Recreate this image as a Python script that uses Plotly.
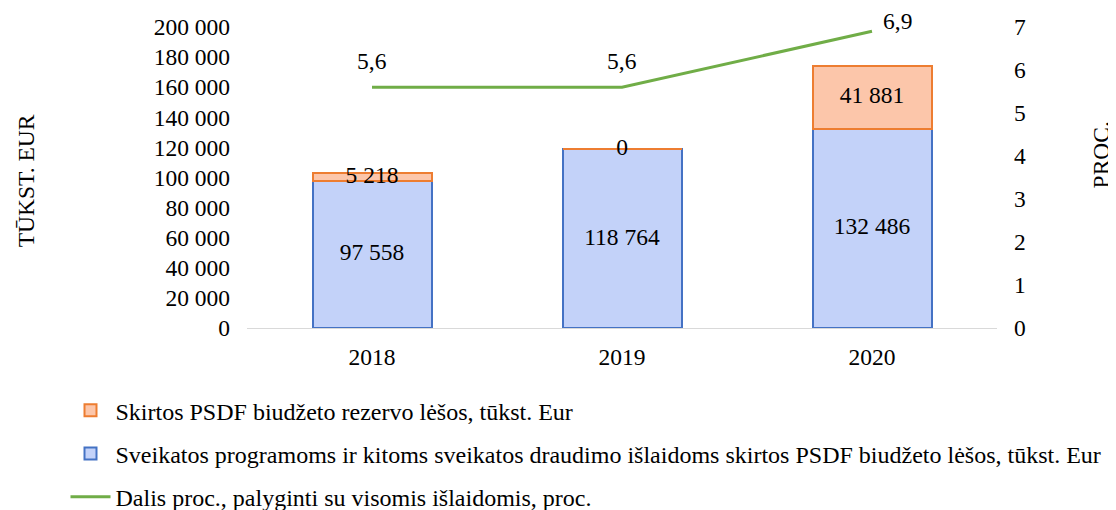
import plotly.graph_objects as go

years = ["2018", "2019", "2020"]
base_vals = [97558, 118764, 132486]
reserve_vals = [5218, 0, 41881]
share_vals = [5.6, 5.6, 6.9]

name_reserve = "Skirtos PSDF biudžeto rezervo lėšos, tūkst. Eur"
name_base = "Sveikatos programoms ir kitoms sveikatos draudimo išlaidoms skirtos PSDF biudžeto lėšos, tūkst. Eur"
name_share = "Dalis proc., palyginti su visomis išlaidomis, proc."

FONT = "Liberation Serif, Times New Roman, serif"
FS = 23.5

def fmt(v):
    return f"{v:,}".replace(",", " ")

fig = go.Figure()

fig.add_trace(go.Bar(
    x=years, y=base_vals, name=name_base, legendgroup="b", legendrank=2,
    marker=dict(color="#c3d2f9", line=dict(color="#4472c4", width=2)),
    width=0.476,
))
fig.add_trace(go.Bar(
    x=years, y=reserve_vals, name=name_reserve, legendgroup="a", legendrank=1,
    marker=dict(color="#fcc6aa", line=dict(color="#ed7d31", width=2)),
    width=0.476,
))
fig.add_trace(go.Scatter(
    x=years, y=share_vals, name=name_share, legendgroup="c", legendrank=3,
    mode="lines", yaxis="y2", cliponaxis=False,
    line=dict(color="#70ad47", width=3),
))
# labels for bars
fig.add_trace(go.Scatter(
    x=years, y=[v / 2 for v in base_vals], mode="text", cliponaxis=False,
    text=[fmt(v) for v in base_vals], showlegend=False, hoverinfo="skip",
    textfont=dict(family=FONT, size=FS, color="black"),
))
fig.add_trace(go.Scatter(
    x=years, y=[b + r / 2 for b, r in zip(base_vals, reserve_vals)], mode="text",
    cliponaxis=False,
    text=[fmt(v) for v in reserve_vals], showlegend=False, hoverinfo="skip",
    textfont=dict(family=FONT, size=FS, color="black"),
))

annotations = [
    dict(text="TŪKST. EUR", textangle=-90, x=-0.295, y=0.49, xref="paper",
         yref="paper", showarrow=False, xanchor="center", yanchor="middle",
         font=dict(family=FONT, size=FS)),
    dict(text="PROC.", textangle=-90, x=1.138, y=0.575, xref="paper",
         yref="paper", showarrow=False, xanchor="center", yanchor="middle",
         font=dict(family=FONT, size=FS)),
]
last = len(years) - 1
for i, v in enumerate(share_vals):
    annotations.append(dict(
        text=f"{v}".replace(".", ","), x=i, y=v, xref="x", yref="y2",
        showarrow=False, xanchor="center", yanchor="middle",
        xshift=25 if i == last else 0, yshift=10 if i == last else 26,
        font=dict(family=FONT, size=FS, color="black"),
    ))

fig.update_layout(
    width=1108, height=502,
    barmode="stack",
    paper_bgcolor="white", plot_bgcolor="white",
    font=dict(family=FONT, size=FS, color="black"),
    margin=dict(l=239, r=119, t=19, b=182, autoexpand=False),
    showlegend=True,
    legend=dict(
        x=-0.242, y=-0.2, xanchor="left", yanchor="top",
        traceorder="grouped", tracegroupgap=9,
        font=dict(family=FONT, size=24, color="black"),
        itemwidth=40,
    ),
    xaxis=dict(
        type="category", showgrid=False, showline=True, linecolor="#d9d9d9",
        linewidth=1, ticks="", ticklabelstandoff=8, range=[-0.5, 2.5],
    ),
    yaxis=dict(
        range=[0, 200000], dtick=20000, showgrid=False, zeroline=False,
        showline=False, tickformat=",d", ticks="", ticklabelstandoff=16,
    ),
    yaxis2=dict(
        range=[0, 7], dtick=1, overlaying="y", side="right", showgrid=False,
        zeroline=False, showline=False, ticks="", ticklabelstandoff=16,
    ),
    separators=", ",
    annotations=annotations,
)

fig.write_html("out.html")
